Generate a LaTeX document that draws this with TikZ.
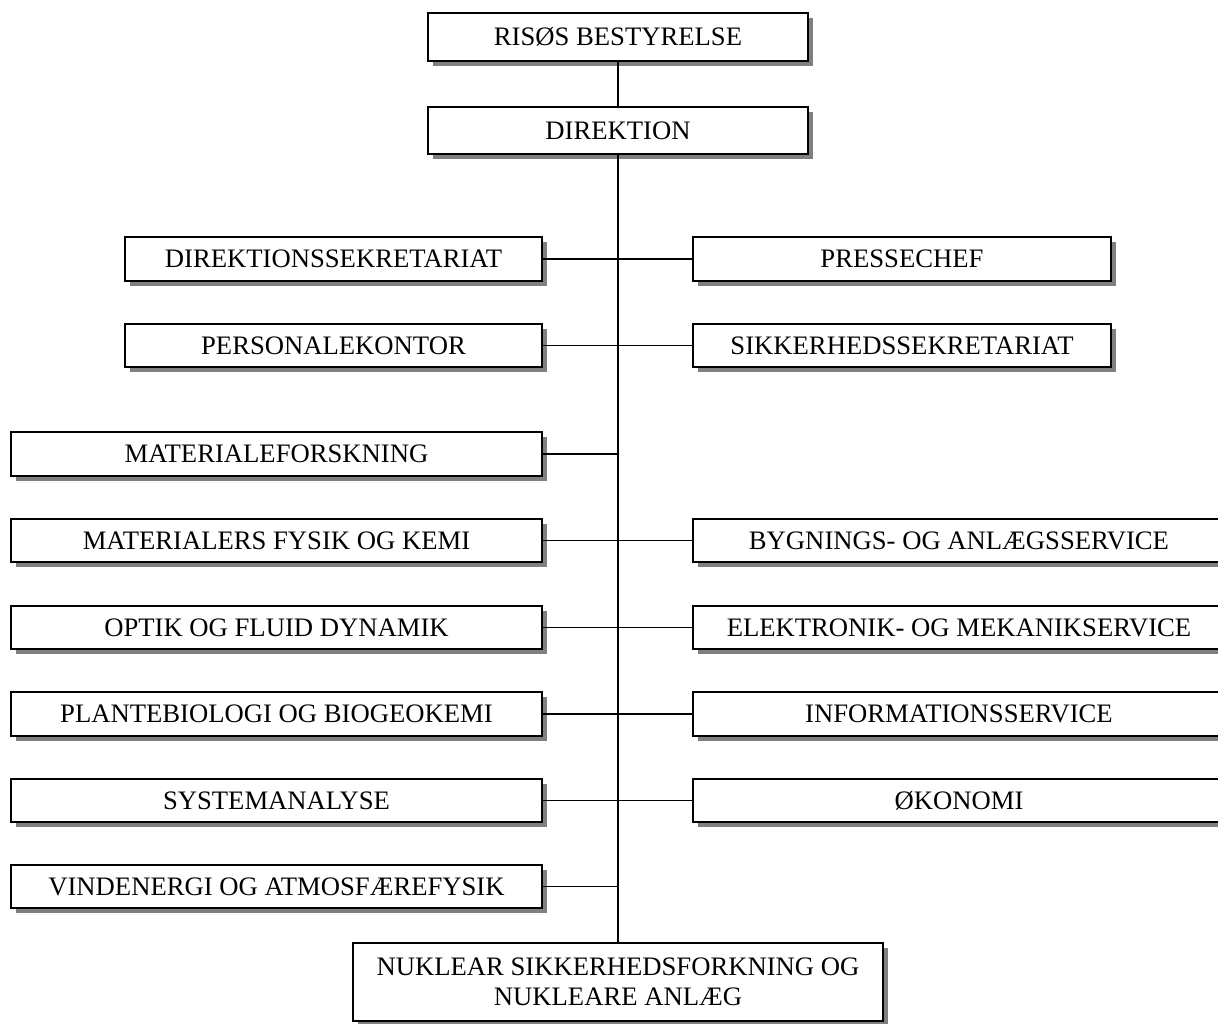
\documentclass[tikz,border=0pt]{standalone}
\usepackage{fontspec}
\setmainfont{Liberation Serif}
\usetikzlibrary{shadows}
\definecolor{shadowgray}{RGB}{128,128,128}
\tikzset{
  orgbox/.style 2 args={draw=black, fill=white, line width=1.1pt,
    minimum width={#1*0.75pt}, minimum height={#2*0.75pt},
    inner sep=0pt, align=center, font=\fontsize{20}{22.5}\selectfont,
    drop shadow={shadow xshift=4pt, shadow yshift=-4pt, fill=shadowgray, opacity=1}},
  link/.style={draw=black, line width=1pt}
}
\begin{document}
\begin{tikzpicture}[x=0.75pt, y=-0.75pt]
\useasboundingbox (0,0) rectangle (1218,1024);
\clip (0,0) rectangle (1218,1024);
% top
\node[orgbox={380}{48}] (risos) at (618,37) {RISØS BESTYRELSE};
\node[orgbox={380}{47}] (dir) at (618,130.5) {DIREKTION};
% staff rows
\node[orgbox={417}{44}] (dsek) at (333.5,259) {DIREKTIONSSEKRETARIAT};
\node[orgbox={418}{44}] (presse) at (902,259) {PRESSECHEF};
\node[orgbox={417}{43}] (pers) at (333.5,345.5) {PERSONALEKONTOR};
\node[orgbox={418}{43}] (sikk) at (902,345.5) {SIKKERHEDSSEKRETARIAT};
% departments left
\node[orgbox={531}{44}] (matf) at (276.5,454) {MATERIALEFORSKNING};
\node[orgbox={531}{43}] (matk) at (276.5,540.5) {MATERIALERS FYSIK OG KEMI};
\node[orgbox={531}{43}] (optik) at (276.5,627.5) {OPTIK OG FLUID DYNAMIK};
\node[orgbox={531}{44}] (plante) at (276.5,714) {PLANTEBIOLOGI OG BIOGEOKEMI};
\node[orgbox={531}{43}] (system) at (276.5,800.5) {SYSTEMANALYSE};
\node[orgbox={531}{43}] (vind) at (276.5,886.5) {VINDENERGI OG ATMOSFÆREFYSIK};
% departments right
\node[orgbox={532}{43}] (bygn) at (959,540.5) {BYGNINGS- OG ANLÆGSSERVICE};
\node[orgbox={532}{43}] (elek) at (959,627.5) {ELEKTRONIK- OG MEKANIKSERVICE};
\node[orgbox={532}{44}] (info) at (959,714) {INFORMATIONSSERVICE};
\node[orgbox={532}{43}] (okon) at (959,800.5) {ØKONOMI};
% bottom
\node[orgbox={530}{78}] (nukl) at (618,982) {NUKLEAR SIKKERHEDSFORKNING OG\\NUKLEARE ANLÆG};
% connectors
\draw[link] (risos.south) -- (dir.north);
\draw[link] (dir.south) -- (nukl.north);
\draw[link] (dsek.east) -- (presse.west);
\draw[link] (pers.east) -- (sikk.west);
\draw[link] (matf.east) -- (matf.east -| dir.south);
\draw[link] (matk.east) -- (bygn.west);
\draw[link] (optik.east) -- (elek.west);
\draw[link] (plante.east) -- (info.west);
\draw[link] (system.east) -- (okon.west);
\draw[link] (vind.east) -- (vind.east -| dir.south);
\end{tikzpicture}
\end{document}
